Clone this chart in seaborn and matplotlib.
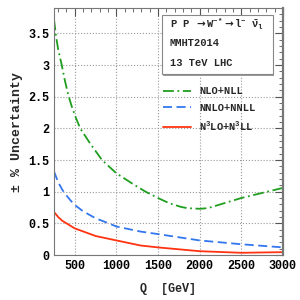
import pandas as pd
import matplotlib
matplotlib.use("Agg")
import matplotlib.pyplot as plt
import seaborn as sns
from matplotlib.patches import Rectangle
from matplotlib.ticker import MultipleLocator, FuncFormatter

q_nlo = [250, 275, 300, 343, 380, 423, 460, 500, 565, 645, 685, 827, 1000, 1200, 1350, 1500,
         1630, 1775, 1850, 2000, 2100, 2300, 2500, 2750, 3000]
unc_nlo = [3.72, 3.45, 3.25, 3.0, 2.76, 2.52, 2.36, 2.21, 2.0, 1.84, 1.76, 1.5, 1.29, 1.12, 1.0, 0.9,
           0.82, 0.76, 0.74, 0.73, 0.74, 0.82, 0.9, 0.98, 1.06]

q_nnlo = [250, 300, 350, 400, 450, 500, 600, 750, 907, 1000, 1290, 1500, 1750, 2000, 2500, 3000]
unc_nnlo = [1.32, 1.15, 1.03, 0.94, 0.86, 0.79, 0.69, 0.58, 0.5, 0.45, 0.37, 0.33, 0.28, 0.23, 0.17, 0.12]

q_n3lo = [250, 300, 350, 400, 450, 500, 750, 1000, 1290, 1500, 1750, 2000, 2500, 3000]
unc_n3lo = [0.68, 0.6, 0.54, 0.5, 0.46, 0.42, 0.3, 0.23, 0.15, 0.12, 0.09, 0.06, 0.035, 0.045]

orders = ["NLO+NLL", "NNLO+NNLL", "N$^3$LO+N$^3$LL"]
colors = ["#1f9e1f", "#3377ee", "#ff3311"]

df = pd.concat([
    pd.DataFrame({"Q": q_nlo, "unc": unc_nlo, "order": orders[0]}),
    pd.DataFrame({"Q": q_nnlo, "unc": unc_nnlo, "order": orders[1]}),
    pd.DataFrame({"Q": q_n3lo, "unc": unc_n3lo, "order": orders[2]}),
])

sns.set_style("white")
plt.rcParams["font.family"] = ["Liberation Mono", "DejaVu Sans Mono"]
plt.rcParams["font.weight"] = "bold"
plt.rcParams["mathtext.fontset"] = "custom"
plt.rcParams["mathtext.rm"] = "Liberation Mono:bold"
plt.rcParams["mathtext.it"] = "Liberation Mono:bold"
plt.rcParams["mathtext.bf"] = "Liberation Mono:bold"
plt.rcParams["mathtext.sf"] = "DejaVu Sans"

fig = plt.figure(figsize=(3, 3), dpi=100)
ax = fig.add_axes([0.18, 0.15, 0.763, 0.823])

sns.lineplot(data=df, x="Q", y="unc", hue="order", style="order",
             hue_order=orders, style_order=orders,
             palette=dict(zip(orders, colors)),
             dashes={orders[0]: (6, 2, 1, 2), orders[1]: (5, 2.5), orders[2]: ""},
             linewidth=1.3, ax=ax)

ax.set_xlim(250, 3000)
ax.set_ylim(0, 3.9)
ax.xaxis.set_major_locator(MultipleLocator(500))
ax.xaxis.set_minor_locator(MultipleLocator(100))
ax.yaxis.set_major_locator(MultipleLocator(0.5))
ax.yaxis.set_minor_locator(MultipleLocator(0.1))
ax.tick_params(which="both", direction="in", top=True, right=True, labelsize=8.5,
               colors="#555555", labelcolor="black")
ax.tick_params(which="major", length=6)
ax.tick_params(which="minor", length=3)
ax.yaxis.set_major_formatter(FuncFormatter(lambda v, p: f"{v:g}"))
ax.grid(True, which="major", linestyle=":", color="#999999", linewidth=0.8)
for s in ax.spines.values():
    s.set_color("#777777")
    s.set_linewidth(0.8)
ax.spines["right"].set_linewidth(1.6)

ax.set_xlabel("Q  [GeV]", fontsize=8.5, fontweight="bold", labelpad=8)
ax.set_ylabel("± % Uncertainty", fontsize=9.5, fontweight="bold", labelpad=4)

# process box with drop shadow
ax.add_patch(Rectangle((0.478, 0.726), 0.484, 0.24, transform=ax.transAxes,
                       facecolor="#999999", edgecolor="none", zorder=4))
ax.add_patch(Rectangle((0.472, 0.733), 0.484, 0.239, transform=ax.transAxes,
                       facecolor="white", edgecolor="#888888", linewidth=0.8, zorder=5))
ax.text(0.505, 0.935, r"P P $\mathsf{\rightarrow}$W$^{-*}$$\mathsf{\rightarrow}$l$^{-}$ $\bar{\nu}_l$",
        transform=ax.transAxes, fontsize=7.5, va="center", zorder=6)
ax.text(0.505, 0.858, "MMHT2014", transform=ax.transAxes, fontsize=7.5, va="center", zorder=6)
ax.text(0.505, 0.777, "13 TeV LHC", transform=ax.transAxes, fontsize=7.5, va="center", zorder=6)

ax.legend(title=None, frameon=False, loc="upper left", bbox_to_anchor=(0.46, 0.70),
          fontsize=7.5, handlelength=2.6, labelspacing=0.65, handletextpad=0.8,
          borderaxespad=0)

fig.savefig("out.png", dpi=100)
